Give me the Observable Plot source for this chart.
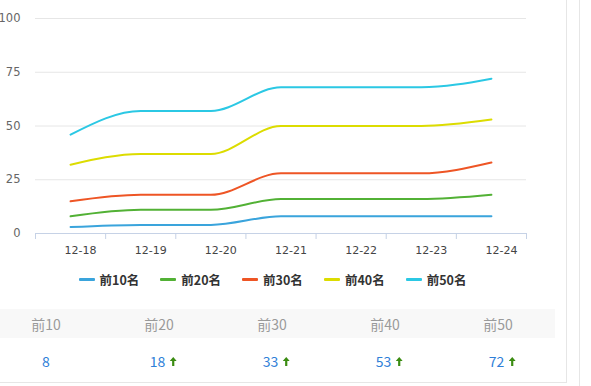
<!DOCTYPE html>
<html>
<head>
<meta charset="utf-8">
<script src="https://cdn.jsdelivr.net/npm/d3@7"></script>
<script src="https://cdn.jsdelivr.net/npm/@observablehq/plot@0.6"></script>
<style>
  html, body { margin: 0; padding: 0; background: #fff; width: 591px; height: 386px; overflow: hidden; }
  body { position: relative; font-family: "Noto Sans CJK SC", "Noto Sans", sans-serif; }
  #chart { position: absolute; left: 0; top: 0; }
  #legend { position: absolute; left: 0; top: 270px; width: 545px; display: flex; justify-content: center; gap: 21px; font-size: 12.5px; font-weight: bold; color: #333; }
  #legend .item { display: flex; align-items: center; }
  #legend .sw { width: 16px; height: 3px; margin-right: 5px; border-radius: 1px; }
  #thead { position: absolute; left: 0; top: 309px; width: 555px; height: 29px; background: #f8f8f8; }
  .cell { position: absolute; transform: translateX(-50%); white-space: nowrap; display: flex; align-items: center; }
  .hcell { top: 0; height: 29px; color: #9a9a9a; font-size: 14px; }
  .vcell { top: 350px; height: 22px; color: #2f7fd8; font-size: 14px; }
  #border-r { position: absolute; left: 566px; top: 0; width: 1px; height: 383px; background: #e6e6e6; }
  #border-b { position: absolute; left: 0; top: 382px; width: 567px; height: 1px; background: #e6e6e6; }
  #border-r2 { position: absolute; left: 579px; top: 0; width: 1px; height: 386px; background: #e6e6e6; }
</style>
</head>
<body>
<div id="chart"></div>
<div id="legend"></div>
<div id="thead"></div>
<div id="tvals"></div>
<div id="border-r"></div>
<div id="border-b"></div>
<div id="border-r2"></div>
<script>
const dates = ["12-18", "12-19", "12-20", "12-21", "12-22", "12-23", "12-24"];
const seriesNames = ["前10名", "前20名", "前30名", "前40名", "前50名"];
const tableHeaders = ["前10", "前20", "前30", "前40", "前50"];
const colors = ["#3aa4dc", "#52b135", "#ee5525", "#dcdc00", "#2bc8e4"];
const top10 = [3, 4, 4, 8, 8, 8, 8];
const top20 = [8, 11, 11, 16, 16, 16, 18];
const top30 = [15, 18, 18, 28, 28, 28, 33];
const top40 = [32, 37, 37, 50, 50, 50, 53];
const top50 = [46, 57, 57, 68, 68, 68, 72];
const yTicks = [0, 25, 50, 75, 100];

const allSeries = [top10, top20, top30, top40, top50];
const rows = [];
allSeries.forEach((vals, s) => vals.forEach((v, i) => rows.push({ i, v, s: seriesNames[s] })));

const idx = dates.map((d, i) => i);
const bounds = d3.range(-0.5, dates.length, 1);

const chart = Plot.plot({
  width: 591,
  height: 262,
  marginLeft: 35,
  marginRight: 65,
  marginTop: 18,
  marginBottom: 29,
  style: { fontFamily: "DejaVu Sans, sans-serif", background: "transparent" },
  x: { domain: [-0.5, dates.length - 0.5] },
  y: { domain: [0, 100] },
  color: { domain: seriesNames, range: colors },
  marks: [
    Plot.gridY(yTicks, { stroke: "#e6e6e6", strokeOpacity: 1 }),
    Plot.axisY(yTicks, { tickSize: 0, tickPadding: 15, fontSize: 11.5, fill: "#666", label: null }),
    Plot.ruleY([0], { stroke: "#c6d2e6", strokeWidth: 1 }),
    Plot.axisX(bounds, { tickSize: 6, tickFormat: () => "", stroke: "#c6d2e6", strokeOpacity: 1, label: null }),
    Plot.axisX(idx, { tickSize: 0, tickPadding: 13, dx: 10, tickFormat: i => dates[i], fontSize: 11, fill: "#444", label: null }),
    Plot.line(rows, { x: "i", y: "v", z: "s", stroke: "s", strokeWidth: 2, curve: "monotone-x" })
  ]
});
document.getElementById("chart").append(chart);

const legend = document.getElementById("legend");
seriesNames.forEach((n, k) => {
  const it = document.createElement("div");
  it.className = "item";
  it.innerHTML = `<span class="sw" style="background:${colors[k]}"></span><span>${n}</span>`;
  legend.append(it);
});

const centers = [46, 159, 272, 385, 498];
const thead = document.getElementById("thead");
const tvals = document.getElementById("tvals");
tableHeaders.forEach((h, k) => {
  const c = document.createElement("div");
  c.className = "cell hcell";
  c.style.left = centers[k] + "px";
  c.textContent = h;
  thead.append(c);
  const vals = allSeries[k];
  const last = vals[vals.length - 1], prev = vals[vals.length - 2];
  const v = document.createElement("div");
  v.className = "cell vcell";
  v.style.left = (centers[k] + (last > prev ? 4 : 0)) + "px";
  v.innerHTML = `<span>${last}</span>` + (last > prev ?
    `<svg width="7" height="9" style="margin-left:4px" viewBox="0 0 7 9"><polygon points="3.5,0 7,4 4.6,4 4.6,9 2.4,9 2.4,4 0,4" fill="#3b8c12"/></svg>` : "");
  tvals.append(v);
});
</script>
</body>
</html>
